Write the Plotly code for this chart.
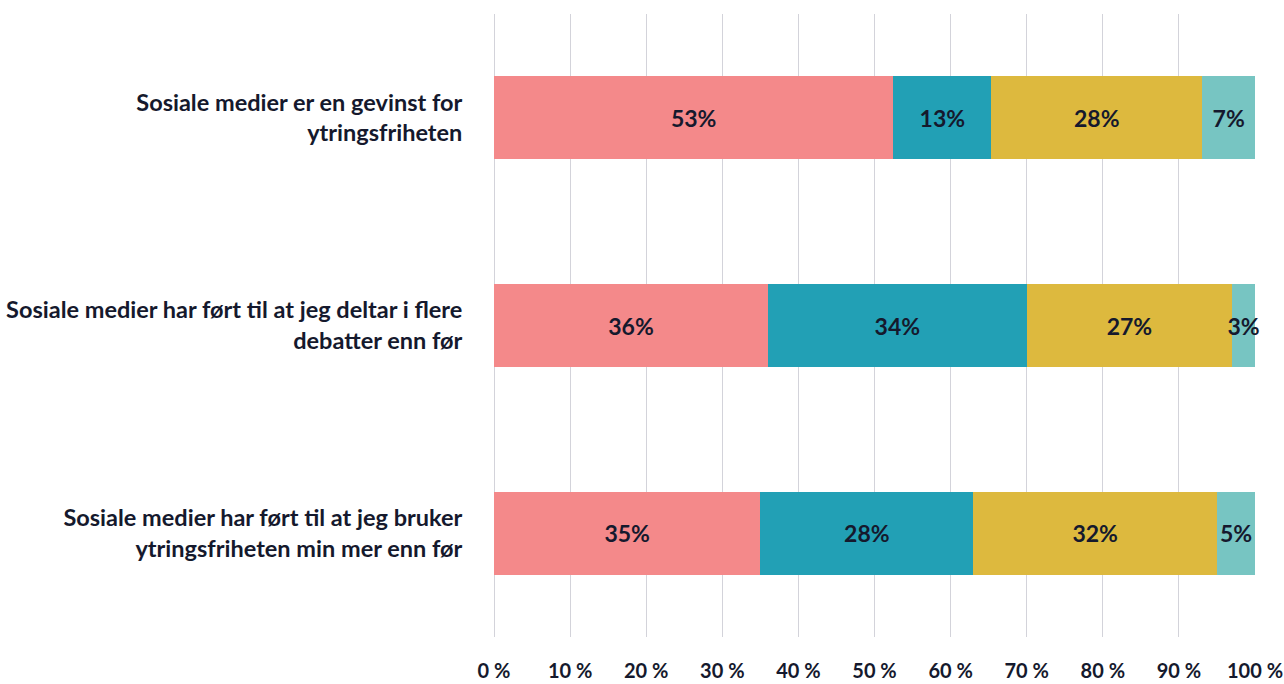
import plotly.graph_objects as go

categories = [
    "Sosiale medier er en gevinst for<br>ytringsfriheten",
    "Sosiale medier har ført til at jeg deltar i flere<br>debatter enn før",
    "Sosiale medier har ført til at jeg bruker<br>ytringsfriheten min mer enn før",
]
series_names = ["Serie 1", "Serie 2", "Serie 3", "Serie 4"]
s1 = [53, 36, 35]
s2 = [13, 34, 28]
s3 = [28, 27, 32]
s4 = [7, 3, 5]
colors = ["#F4898A", "#22A0B5", "#DDB93E", "#77C5C2"]
tick_vals = [0, 10, 20, 30, 40, 50, 60, 70, 80, 90, 100]
tick_text = ["0 %", "10 %", "20 %", "30 %", "40 %", "50 %", "60 %", "70 %", "80 %", "90 %", "100 %"]

TEXT = "#15192D"
FONT = "Lato"
GRID = "#D3D3DA"

fig = go.Figure()
for name, vals, col in zip(series_names, [s1, s2, s3, s4], colors):
    fig.add_trace(go.Bar(
        y=categories, x=vals, name=name, orientation="h",
        marker=dict(color=col, line=dict(width=0)),
        text=[f"{v}%" for v in vals], textposition="inside",
        insidetextanchor="middle", constraintext="none", textangle=0,
        textfont=dict(family=FONT, size=23, color=TEXT, weight="bold"),
        cliponaxis=False,
    ))

fig.update_layout(
    barmode="stack", barnorm="percent", bargap=0.6,
    width=1284, height=684,
    margin=dict(l=494, r=29, t=14, b=47, autoexpand=False),
    paper_bgcolor="white", plot_bgcolor="white",
    showlegend=False,
    uniformtext=dict(mode=False),
    font=dict(family=FONT, color=TEXT),
    xaxis=dict(range=[0, 100], tickvals=tick_vals, ticktext=tick_text,
               showgrid=True, gridcolor=GRID, gridwidth=1,
               zeroline=True, zerolinecolor=GRID, zerolinewidth=1,
               showline=False, automargin=False, ticklabeloverflow="allow",
               ticks="outside", ticklen=16, tickcolor="rgba(0,0,0,0)",
               tickfont=dict(family=FONT, size=20, color=TEXT, weight="bold")),
    yaxis=dict(autorange="reversed", showgrid=False, zeroline=False,
               automargin=False,
               ticks="outside", ticklen=26, tickcolor="rgba(0,0,0,0)",
               tickfont=dict(family=FONT, size=23.5, color=TEXT, weight="bold")),
)

fig.write_html(
    "out.html",
    config={"displayModeBar": False},
    post_script="document.body.style.margin='0';document.body.style.padding='0';document.body.style.overflow='hidden';",
)
